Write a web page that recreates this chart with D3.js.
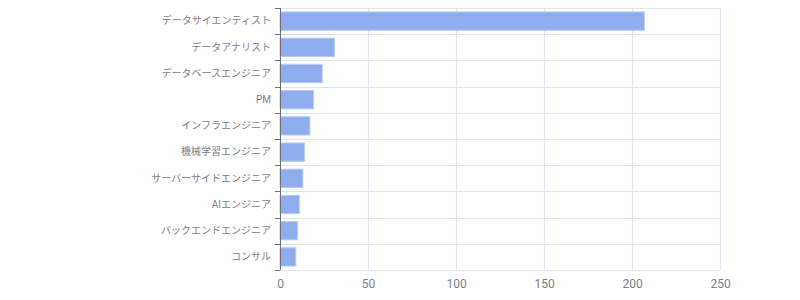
<!DOCTYPE html>
<html>
<head>
<meta charset="utf-8">
<script src="https://cdn.jsdelivr.net/npm/d3@7"></script>
<style>
  body { margin: 0; background: #fff; }
  svg text { font-family: Roboto, "Noto Sans CJK JP", sans-serif; }
</style>
</head>
<body>
<svg id="chart" width="800" height="300"></svg>
<script>
const roles = ["データサイエンティスト", "データアナリスト", "データベースエンジニア", "PM", "インフラエンジニア", "機械学習エンジニア", "サーバーサイドエンジニア", "AIエンジニア", "バックエンドエンジニア", "コンサル"];
const counts = [207, 31, 24, 19, 17, 14, 13, 11, 10, 9];
const xTicks = [0, 50, 100, 150, 200, 250];

const margin = {top: 8, right: 80, bottom: 30, left: 280};
const width = 800 - margin.left - margin.right;
const height = 300 - margin.top - margin.bottom;

const x = d3.scaleLinear().domain([0, 250]).range([0, width]);
const y = d3.scaleBand().domain(roles).range([0, height]).paddingInner(0.3).paddingOuter(0.15);

const svg = d3.select("#chart");
const chart = svg.append("g")
  .attr("transform", "translate(" + margin.left + "," + margin.top + ")");

// band boundaries for horizontal grid
const step = height / roles.length;
const bounds = d3.range(roles.length + 1).map(i => i * step);

chart.append("g").selectAll("line")
  .data(bounds)
  .enter().append("line")
  .attr("x1", 0).attr("x2", width)
  .attr("y1", d => Math.round(d) + 0.5).attr("y2", d => Math.round(d) + 0.5)
  .attr("stroke", "#e0e6f1");

chart.append("g").selectAll("line")
  .data(xTicks.slice(1))
  .enter().append("line")
  .attr("x1", d => Math.round(x(d)) + 0.5).attr("x2", d => Math.round(x(d)) + 0.5)
  .attr("y1", 0).attr("y2", height)
  .attr("stroke", "#e0e6f1");

// bars
chart.append("g").selectAll("rect")
  .data(counts)
  .enter().append("rect")
  .attr("x", 0)
  .attr("y", (d, i) => y(roles[i]))
  .attr("width", d => x(d))
  .attr("height", y.bandwidth())
  .attr("fill", "#8eadee")
  .attr("stroke", "#b9ccf6")
  .attr("stroke-width", 1);

// x axis labels
const xAxis = chart.append("g")
  .attr("transform", "translate(0," + height + ")")
  .call(d3.axisBottom(x).tickValues(xTicks).tickSize(0).tickPadding(9));
xAxis.select(".domain").remove();
xAxis.selectAll("text")
  .attr("fill", "#7d8088")
  .style("font-size", "12px");

// y axis line and ticks
chart.append("line")
  .attr("x1", 0.5).attr("x2", 0.5)
  .attr("y1", 0).attr("y2", height)
  .attr("stroke", "#6e7079");

chart.append("g").selectAll("line")
  .data(bounds)
  .enter().append("line")
  .attr("x1", -5).attr("x2", 0)
  .attr("y1", d => Math.round(d) + 0.5).attr("y2", d => Math.round(d) + 0.5)
  .attr("stroke", "#6e7079");

const yAxis = chart.append("g")
  .call(d3.axisLeft(y).tickSize(0).tickPadding(9));
yAxis.select(".domain").remove();
yAxis.selectAll("text")
  .attr("fill", "#7d8088")
  .style("font-size", "10px");
</script>
</body>
</html>
